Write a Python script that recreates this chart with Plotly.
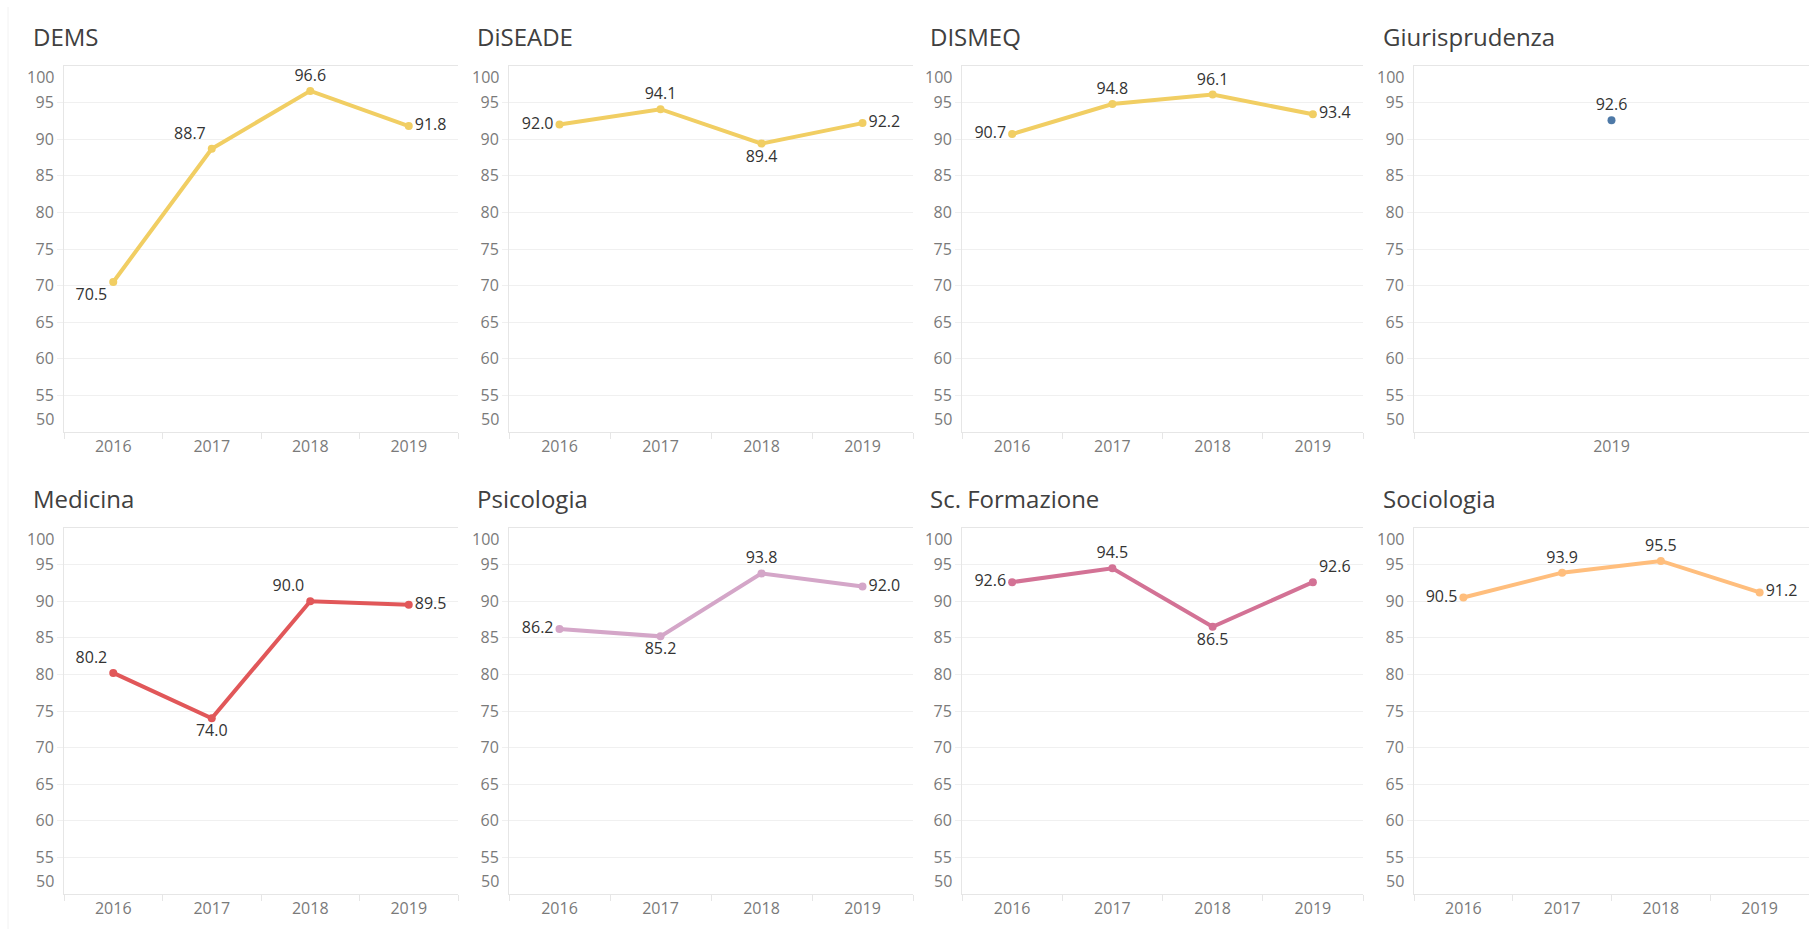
import plotly.graph_objects as go

W, H = 1809, 931

years = ["2016", "2017", "2018", "2019"]
giur_years = ["2019"]

dems = [70.5, 88.7, 96.6, 91.8]
diseade = [92.0, 94.1, 89.4, 92.2]
dismeq = [90.7, 94.8, 96.1, 93.4]
giurisprudenza = [92.6]
medicina = [80.2, 74.0, 90.0, 89.5]
psicologia = [86.2, 85.2, 93.8, 92.0]
sc_formazione = [92.6, 94.5, 86.5, 92.6]
sociologia = [90.5, 93.9, 95.5, 91.2]

titles = ["DEMS", "DiSEADE", "DISMEQ", "Giurisprudenza",
          "Medicina", "Psicologia", "Sc. Formazione", "Sociologia"]
y_ticks = [55, 60, 65, 70, 75, 80, 85, 90, 95]

panels = [
    (years, dems, "#F1CE63", ["bottom left", "top left", "top center", "middle right"]),
    (years, diseade, "#F1CE63", ["middle left", "top center", "bottom center", "middle right"]),
    (years, dismeq, "#F1CE63", ["middle left", "top center", "top center", "middle right"]),
    (giur_years, giurisprudenza, "#4E79A7", ["top center"]),
    (years, medicina, "#E15759", ["top left", "bottom center", "top left", "middle right"]),
    (years, psicologia, "#D4A6C8", ["middle left", "bottom center", "top center", "middle right"]),
    (years, sc_formazione, "#D37295", ["middle left", "top center", "bottom center", "top right"]),
    (years, sociologia, "#FFBE7D", ["middle left", "top center", "top center", "middle right"]),
]

# layout geometry in pixels
cols = [(64, 458), (509, 913), (962, 1363), (1414, 1809)]
rows = [(66, 432), (528, 894)]
title_x = [31, 475, 928, 1381]
title_y = [37, 498]

FONT = "Open Sans"
GRID = "#f0f0f0"
LINE = "#e6e6e6"
TICKC = "#7a7a7a"

def px_x(x):
    return x / W

def px_y(y):
    return 1 - y / H

fig = go.Figure()
layout = dict(
    width=W, height=H,
    margin=dict(l=0, r=0, t=0, b=0),
    paper_bgcolor="white", plot_bgcolor="white",
    showlegend=False,
    font=dict(family=FONT, size=16, color="#333333"),
    annotations=[], shapes=[],
)

for i, (xs, ys, color, tpos) in enumerate(panels):
    r, c = divmod(i, 4)
    n = i + 1
    xa = "x" if n == 1 else f"x{n}"
    ya = "y" if n == 1 else f"y{n}"
    xkey = "xaxis" if n == 1 else f"xaxis{n}"
    ykey = "yaxis" if n == 1 else f"yaxis{n}"

    fig.add_trace(go.Scatter(
        x=xs, y=ys, xaxis=xa, yaxis=ya,
        mode="lines+markers+text",
        line=dict(color=color, width=4),
        marker=dict(color=color, size=8),
        text=[f"{v:.1f}" for v in ys],
        textposition=tpos,
        textfont=dict(family=FONT, size=16, color="#333333"),
        cliponaxis=False,
        hoverinfo="skip",
    ))

    x0, x1 = cols[c]
    top, bot = rows[r]
    layout[xkey] = dict(
        domain=[px_x(x0), px_x(x1)], anchor=ya,
        type="category", categoryorder="array", categoryarray=xs,
        range=[-0.5, len(xs) - 0.5],
        showgrid=False, zeroline=False,
        showline=True, linecolor=LINE, linewidth=1, mirror=True,
        ticks="outside", tickson="boundaries", ticklen=6, tickcolor=LINE,
        tickfont=dict(family=FONT, size=16, color=TICKC),
        fixedrange=True,
    )
    layout[ykey] = dict(
        domain=[px_y(bot), px_y(top)], anchor=xa,
        range=[50, 100],
        tickvals=y_ticks, ticktext=[str(v) for v in y_ticks],
        showgrid=True, gridcolor=GRID, gridwidth=1, zeroline=False,
        showline=True, linecolor=LINE, linewidth=1,
        ticks="outside", ticklen=6, tickcolor=GRID,
        tickfont=dict(family=FONT, size=16, color=TICKC),
        fixedrange=True,
    )
    # edge labels 100 and 50 nudged inward (as in the source)
    for val, shift in ((100, -11), (50, 13)):
        layout["annotations"].append(dict(
            xref=f"{xa} domain", yref=ya, x=0, y=val,
            xanchor="right", yanchor="middle", xshift=-8, yshift=shift,
            text=str(val), showarrow=False,
            font=dict(family=FONT, size=16, color=TICKC),
        ))
    # panel title
    layout["annotations"].append(dict(
        xref="paper", yref="paper", x=px_x(title_x[c]), y=px_y(title_y[r]),
        xanchor="left", yanchor="middle",
        text=titles[i], showarrow=False,
        font=dict(family=FONT, size=24, color="#404040"),
    ))

layout["shapes"].append(dict(
    type="line", xref="paper", yref="paper",
    x0=px_x(8), x1=px_x(8), y0=px_y(929), y1=px_y(7),
    line=dict(color="#f2f2f2", width=1),
))

fig.update_layout(**layout)
fig.write_html("out.html", config={"displayModeBar": False},
               post_script="document.body.style.margin='0';")
